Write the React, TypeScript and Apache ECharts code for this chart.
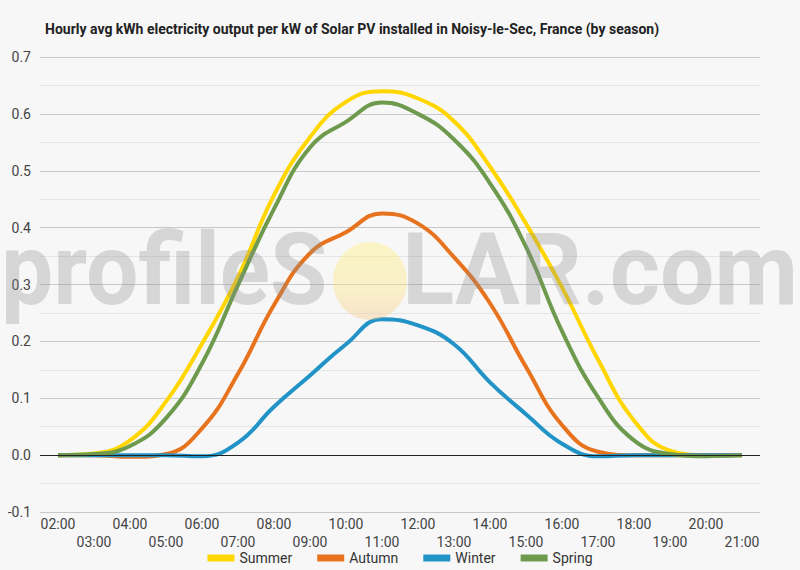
import React, { useEffect, useRef } from 'react'
import * as echarts from 'echarts'

const hours = [
  '02:00', '03:00', '04:00', '05:00', '06:00', '07:00', '08:00', '09:00', '10:00', '11:00',
  '12:00', '13:00', '14:00', '15:00', '16:00', '17:00', '18:00', '19:00', '20:00', '21:00'
]

const summer = [0, 0.003, 0.026, 0.094, 0.196, 0.313, 0.457, 0.559, 0.621, 0.64, 0.627, 0.587, 0.507, 0.407, 0.295, 0.168, 0.061, 0.008, 0, 0]
const autumn = [0, 0, -0.003, 0.002, 0.047, 0.143, 0.264, 0.355, 0.392, 0.425, 0.407, 0.348, 0.267, 0.155, 0.053, 0.006, 0, 0, 0, 0]
const winter = [0, 0, 0, 0, -0.002, 0.022, 0.085, 0.14, 0.195, 0.239, 0.228, 0.195, 0.128, 0.072, 0.02, -0.002, 0, 0, 0, 0]
const spring = [0, 0.002, 0.016, 0.065, 0.161, 0.299, 0.433, 0.541, 0.586, 0.62, 0.6, 0.555, 0.478, 0.366, 0.218, 0.102, 0.026, 0.002, -0.002, 0]

const seasons = [
  { name: 'Summer', data: summer, color: '#FFD600' },
  { name: 'Autumn', data: autumn, color: '#E8731E' },
  { name: 'Winter', data: winter, color: '#2193C6' },
  { name: 'Spring', data: spring, color: '#6E9A4E' }
]

const App: React.FC = () => {
  const chartRef = useRef<HTMLDivElement>(null)

  useEffect(() => {
    if (!chartRef.current) return
    const chart = echarts.init(chartRef.current, null, { renderer: 'svg' })

    const font = 'Roboto, sans-serif'
    const markFill = 'rgba(140,140,140,0.3)'

    const option = {
      animation: false,
      backgroundColor: '#f7f7f7',
      title: {
        text: 'Hourly avg kWh electricity output per kW of Solar PV installed in Noisy-le-Sec, France (by season)',
        left: 40,
        top: 17,
        textStyle: { fontFamily: font, fontSize: 14, fontWeight: 'bold', color: '#222' }
      },
      // watermark, drawn over the lines with some transparency
      graphic: [
        {
          type: 'text',
          x: 1,
          y: 270,
          scaleX: 0.93,
          z: 100,
          silent: true,
          style: {
            text: 'profileS',
            font: 'bold 100px Roboto, sans-serif',
            verticalAlign: 'middle',
            fill: markFill
          }
        },
        {
          type: 'ellipse',
          z: 100,
          silent: true,
          shape: { cx: 370, cy: 281, rx: 37, ry: 39 },
          style: {
            fill: new echarts.graphic.LinearGradient(0, 0, 0, 1, [
              { offset: 0, color: 'rgba(255,240,120,0.4)' },
              { offset: 0.6, color: 'rgba(252,228,130,0.4)' },
              { offset: 1, color: 'rgba(245,200,140,0.4)' }
            ])
          }
        },
        {
          type: 'text',
          x: 402,
          y: 270,
          scaleX: 0.965,
          z: 100,
          silent: true,
          style: {
            text: 'LAR.com',
            font: 'bold 100px Roboto, sans-serif',
            verticalAlign: 'middle',
            fill: markFill
          }
        }
      ],
      legend: {
        bottom: 0,
        left: 'center',
        icon: 'rect',
        itemWidth: 27,
        itemHeight: 7,
        itemGap: 25,
        textStyle: { fontFamily: font, fontSize: 14, color: '#333' },
        data: seasons.map(s => s.name)
      },
      grid: { left: 40, right: 40, top: 57, bottom: 58 },
      xAxis: {
        type: 'category',
        data: hours,
        boundaryGap: true,
        axisLine: { show: false, onZero: false },
        axisTick: { show: false },
        axisLabel: {
          interval: 0,
          hideOverlap: false,
          margin: 3,
          fontFamily: font,
          fontSize: 14,
          lineHeight: 18,
          color: '#444',
          formatter: (v: string, i: number) => (i % 2 === 1 ? '\n' + v : v)
        }
      },
      yAxis: {
        type: 'value',
        min: -0.1,
        max: 0.7,
        interval: 0.1,
        axisLine: { show: false },
        axisTick: { show: false },
        axisLabel: {
          margin: 9,
          fontFamily: font,
          fontSize: 14,
          color: '#444',
          formatter: (v: number) => v.toFixed(1)
        },
        splitLine: { lineStyle: { color: '#c8c8c8', width: 1 } },
        minorTick: { show: false, splitNumber: 2 },
        minorSplitLine: { show: true, lineStyle: { color: '#e4e4e4', width: 1 } }
      },
      series: [
        ...seasons.map(s => ({
          name: s.name,
          type: 'line',
          data: s.data,
          smooth: 0.45,
          symbol: 'none',
          color: s.color,
          lineStyle: { width: 4, color: s.color }
        })),
        {
          name: 'zero',
          type: 'line',
          data: [],
          silent: true,
          z: 1,
          markLine: {
            silent: true,
            symbol: 'none',
            label: { show: false },
            lineStyle: { color: '#222', width: 1, type: 'solid' },
            data: [{ yAxis: 0 }]
          }
        }
      ]
    }

    chart.setOption(option)

    return () => {
      chart.dispose()
    }
  }, [])

  return (
    <div
      ref={chartRef}
      style={{ position: 'fixed', left: 0, top: 0, width: 800, height: 570 }}
    />
  )
}

export default App
